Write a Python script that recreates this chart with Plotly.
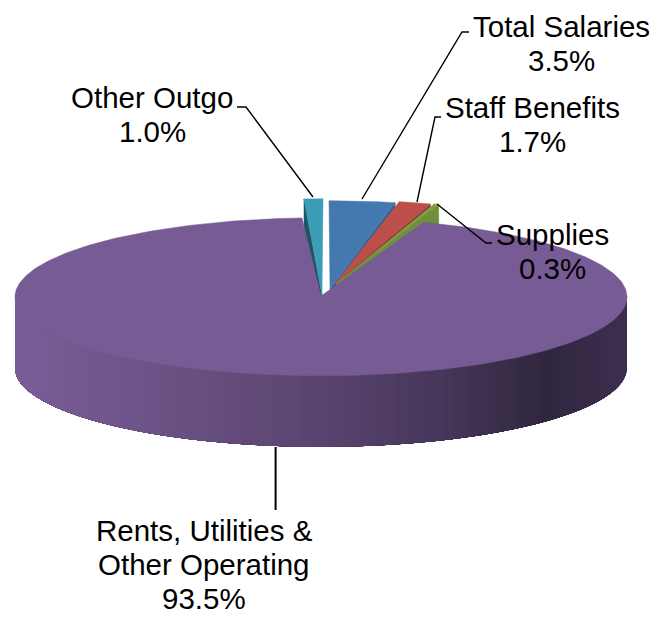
import numpy as np
import plotly.graph_objects as go

labels = ["Total Salaries", "Staff Benefits", "Supplies", "Rents, Utilities &", "Other Outgo"]
label_second_line = [None, None, None, "Other Operating", None]
values = [3.5, 1.7, 0.3, 93.5, 1.0]

top_colors = ["#4479B0", "#BD4F4A", "#7F9F45", "#775B94", "#3D9DB8"]
side_colors = ["#2F5F8E", "#8F3A37", "#6F8F3B", "#5F4A78", "#1D5563"]

# Tilted disc geometry, in page pixels
CX, CY = 321.0, 296.0
A, B, K = 306.0, 79.0, 0.01
DEPTH = 71.0
# Displacement of each slice's rim and apex away from the disc centre
rim_shift = [(8, -17), (12, -18), (15, -18), (0, 0), (2, -19)]
apex_shift = [(9, -7), (14, -12), (15, -12), (0, 0), (1, -1)]

W, H = 657, 618


def rim(pct, offset=(0, 0), drop=0.0):
    """Rim points for a percentage position measured clockwise from the back."""
    pct = np.atleast_1d(pct)
    a = 2 * np.pi * pct / 100
    u, v = np.sin(a), -np.cos(a)
    d = 1 - K * v
    return CX + offset[0] + A * u / d, CY + offset[1] + B * v / d + drop


def poly(x, y, color, edge=0.5):
    return go.Scatter(x=x, y=y, mode="lines", fill="toself", fillcolor=color,
                      line=dict(color=color, width=edge),
                      hoverinfo="skip", showlegend=False)


edges = np.concatenate([[0], np.cumsum(values)])
fig = go.Figure()

# Outer wall of the large slice: base fill, then overlapping shaded strips
shade_x = [13, 120, 320, 440, 550, 627]
shade_r = [122, 112, 90, 72, 48, 62]
shade_g = [94, 86, 69, 56, 39, 47]
shade_b = [152, 140, 112, 92, 62, 80]
steps = np.linspace(25, 75, 101)
for p0 in steps[:-1]:
    # each strip runs to the far end, so later strips paint over the seams
    seg = np.linspace(p0, 75, 40)
    tx, ty = rim(seg)
    bx, by = rim(seg, drop=DEPTH)
    xm = float(tx[0])
    col = "rgb(%d,%d,%d)" % (np.interp(xm, shade_x, shade_r),
                             np.interp(xm, shade_x, shade_g),
                             np.interp(xm, shade_x, shade_b))
    fig.add_trace(poly(np.r_[tx, bx[::-1]], np.r_[ty, by[::-1]], col, edge=0))

# Small slices at the back: cut walls first, then their top faces
small = [0, 1, 2, 4]
for i in small:
    cut = edges[i + 1] if i != 4 else edges[i]
    cx, cy = rim(cut, rim_shift[i])
    ax, ay = CX + apex_shift[i][0], CY + apex_shift[i][1]
    fig.add_trace(poly([ax, cx[0], cx[0], ax],
                       [ay, cy[0], cy[0] + DEPTH, ay + DEPTH], side_colors[i]))
for i in small:
    seg = np.linspace(edges[i], edges[i + 1], 16)
    rx, ry = rim(seg, rim_shift[i])
    ax, ay = CX + apex_shift[i][0], CY + apex_shift[i][1]
    fig.add_trace(poly(np.r_[ax, rx, ax], np.r_[ay, ry, ay], top_colors[i]))

# Top face of the large slice
seg = np.linspace(edges[3], edges[4], 360)
rx, ry = rim(seg)
fig.add_trace(poly(np.r_[CX, rx, CX], np.r_[CY, ry, CY], top_colors[3]))

# Leader lines
leaders = [
    ([362, 462, 469], [199, 32, 32], 1.4),
    ([417, 435, 441], [202, 117, 117], 1.4),
    ([437, 486, 492], [204, 243, 243], 1.4),
    ([275.6, 275.6], [447, 510], 2),
    ([313, 246, 237], [197, 107, 107], 1.4),
]
for lx, ly, lw in leaders:
    fig.add_trace(go.Scatter(x=lx, y=ly, mode="lines",
                             line=dict(color="black", width=lw),
                             hoverinfo="skip", showlegend=False))

# Category names with their shares, one annotation per text line
label_x = [561, 532, 552, 204, 152]
label_y = [26, 107, 234, 530, 97]
LINE_STEP = 34
for name, extra, val, lx, ly in zip(labels, label_second_line, values, label_x, label_y):
    rows = [name] + ([extra] if extra else []) + [f"{val:.1f}%"]
    for r, row in enumerate(rows):
        fig.add_annotation(x=lx, y=ly + r * LINE_STEP, text=row, showarrow=False,
                           xanchor="center", yanchor="middle", align="center",
                           font=dict(family="Liberation Sans, Arial, sans-serif",
                                     size=29.5, color="black"))

fig.update_layout(
    width=W, height=H, margin=dict(l=0, r=0, t=0, b=0),
    paper_bgcolor="white", plot_bgcolor="white", showlegend=False,
    xaxis=dict(range=[0, W], visible=False, fixedrange=True),
    yaxis=dict(range=[H, 0], visible=False, fixedrange=True),
)
fig.write_html("out.html", config=dict(displayModeBar=False))
